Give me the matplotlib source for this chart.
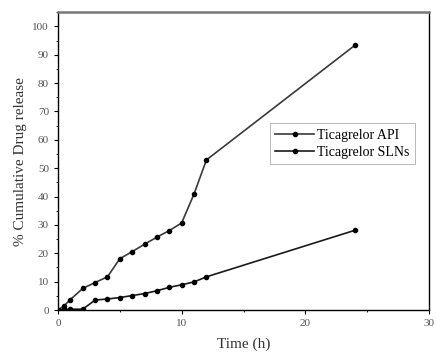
import numpy as np
import matplotlib.pyplot as plt
from matplotlib.ticker import MultipleLocator

plt.rcParams['font.family'] = ['Liberation Serif', 'DejaVu Serif']

# time points (h)
time_h = [0, 0.5, 1, 2, 3, 4, 5, 6, 7, 8, 9, 10, 11, 12, 24]

# % cumulative drug release
api_release = [0, 1.5, 3.7, 7.6, 9.7, 11.7, 18.1, 20.6, 23.2, 25.7, 28.0, 30.7, 40.9, 52.9, 93.3]
sln_release = [0, 0.2, 0.3, 0.3, 3.5, 3.9, 4.4, 5.1, 5.8, 6.8, 8.0, 8.9, 9.9, 11.7, 28.1]

fig = plt.figure(figsize=(4.36, 3.58), dpi=100)
ax = fig.add_axes([0.133, 0.134, 0.851, 0.832])

ax.plot(time_h, api_release, color='#3a3a3a', lw=1.2, marker='o', ms=3,
        mfc='black', mec='black', label='Ticagrelor API')
ax.plot(time_h, sln_release, color='#1a1a1a', lw=1.2, marker='o', ms=3,
        mfc='black', mec='black', label='Ticagrelor SLNs')

ax.set_xlim(0, 30)
ax.set_ylim(0, 105)
ax.xaxis.set_major_locator(MultipleLocator(10))
ax.xaxis.set_minor_locator(MultipleLocator(5))
ax.yaxis.set_major_locator(MultipleLocator(10))
ax.yaxis.set_minor_locator(MultipleLocator(5))
ax.tick_params(which='major', direction='out', length=3, width=0.8,
               labelsize=8, labelcolor='#555555')
ax.tick_params(which='minor', direction='out', length=1.5, width=0.6)

for side in ['left', 'bottom', 'right']:
    ax.spines[side].set_linewidth(1.0)
ax.spines['top'].set_linewidth(1.8)
ax.spines['top'].set_color('#777777')

ax.set_xlabel('Time (h)', fontsize=11, color='#333333', labelpad=7)
ax.set_ylabel('% Cumulative Drug release', fontsize=11, color='#333333', labelpad=4)

leg = ax.legend(loc='upper left', bbox_to_anchor=(0.571, 0.628), fontsize=10,
                frameon=True, fancybox=False, handlelength=2.8,
                borderpad=0.4, labelspacing=0.3, handletextpad=0.2,
                borderaxespad=0)
leg.get_frame().set_edgecolor('#999999')
leg.get_frame().set_linewidth(0.6)

fig.savefig('out.png', dpi=100)
